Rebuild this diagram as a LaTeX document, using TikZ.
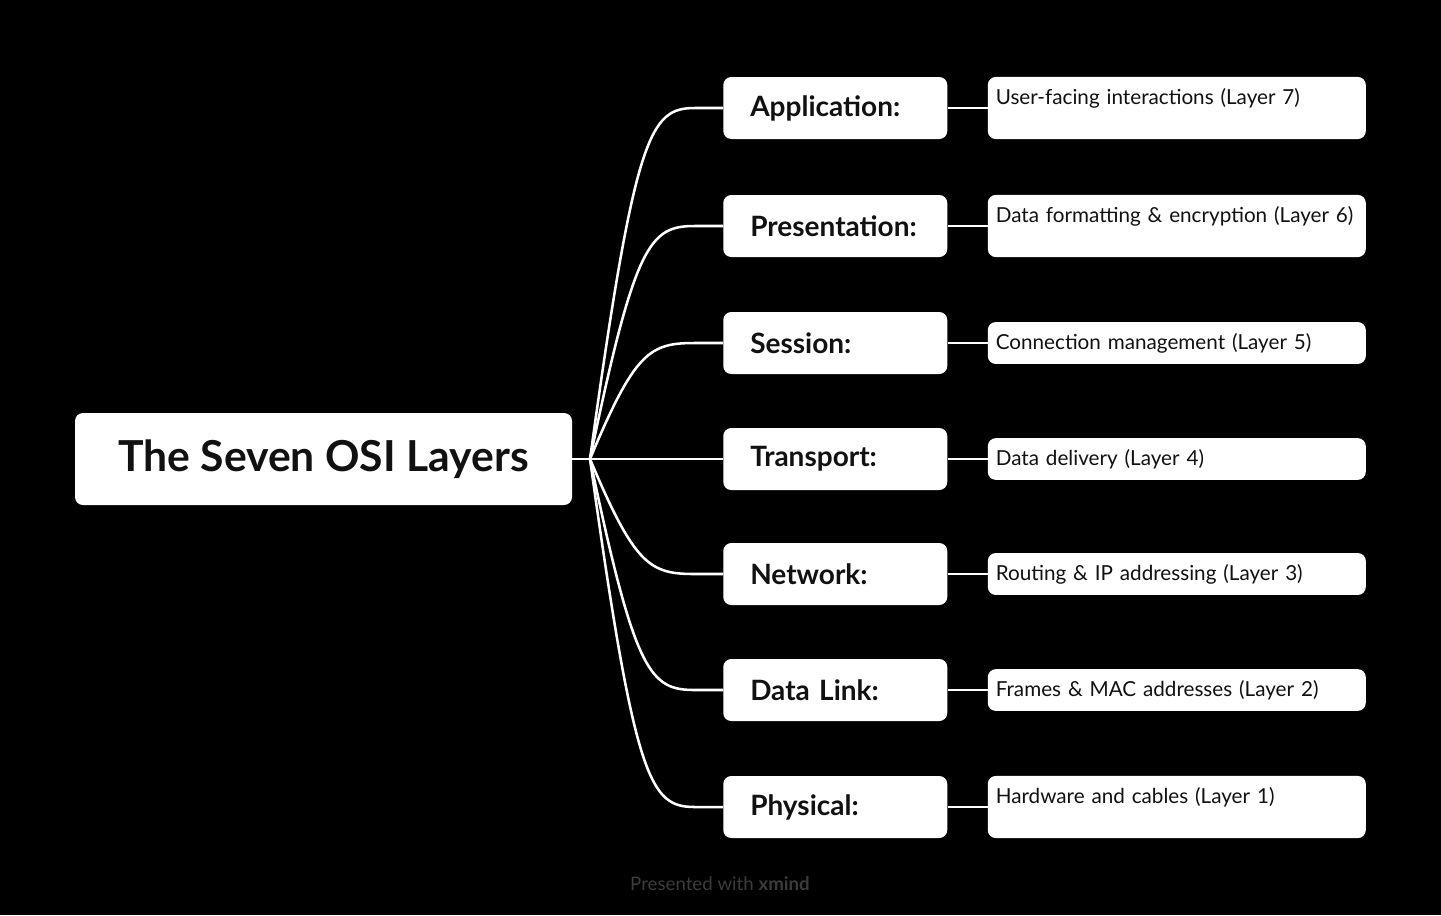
\documentclass[tikz,border=0pt]{standalone}
\usepackage{fontspec}
\setmainfont{Lato}
\usetikzlibrary{positioning,calc}
\definecolor{ink}{HTML}{111111}
\definecolor{faint}{HTML}{3C3C3C}

\begin{document}
\begin{tikzpicture}[x=0.75pt,y=-0.75pt,
  box/.style={fill=white,rounded corners=6pt,text=ink},
  root/.style={box,minimum width=372.75pt,minimum height=69pt,font=\fontsize{32}{36}\selectfont\bfseries},
  layer/.style={box,anchor=west,text width=127.5pt,inner xsep=20.25pt,minimum height=46.5pt,align=left,font=\fontsize{21}{25}\selectfont\bfseries},
  info/.style={box,right=30pt of #1,text width=271.5pt,inner xsep=6pt,inner ysep=8.3pt,minimum height=30.75pt,align=left,font=\fontsize{15.5}{18}\selectfont},
  wire/.style={white,line width=1.9pt}]
\fill[black] (0,0) rectangle (1441,915);
\useasboundingbox (0,0) rectangle (1441,915);
\node[root] (top) at (323.5,459) {The Seven OSI Layers};
\coordinate (hub) at (590,459);
\draw[wire] (top.east) -- (hub);
\foreach \name/\y/\label/\desc in {
  app/108/Application:/User-facing interactions (Layer 7)\\\mbox{},
  pres/226/Presentation:/Data formatting \& encryption (Layer 6)\\\mbox{},
  sess/343/Session:/Connection management (Layer 5),
  trans/459/Transport:/Data delivery (Layer 4),
  net/574/Network:/Routing \& IP addressing (Layer 3),
  link/690/Data Link:/Frames \& MAC addresses (Layer 2),
  phys/807/Physical:/Hardware and cables (Layer 1)\\\mbox{}}{
  \node[layer] (\name) at (723,\y) {\label};
  \node[info=\name] (\name-info) {\desc};
  \draw[wire] (hub) .. controls ($(hub)!0.93!(hub |- \name.west)+(45,0)$) and ($(\name.west)+(-73,0)$) .. ($(\name.west)+(-28,0)$) -- (\name.west);
  \draw[wire] (\name.east) -- (\name-info.west);
}
\node[text=faint,font=\fontsize{14}{16}\selectfont] (credit) at (720,884) {Presented with \textbf{xmind}};
\end{tikzpicture}
\end{document}
